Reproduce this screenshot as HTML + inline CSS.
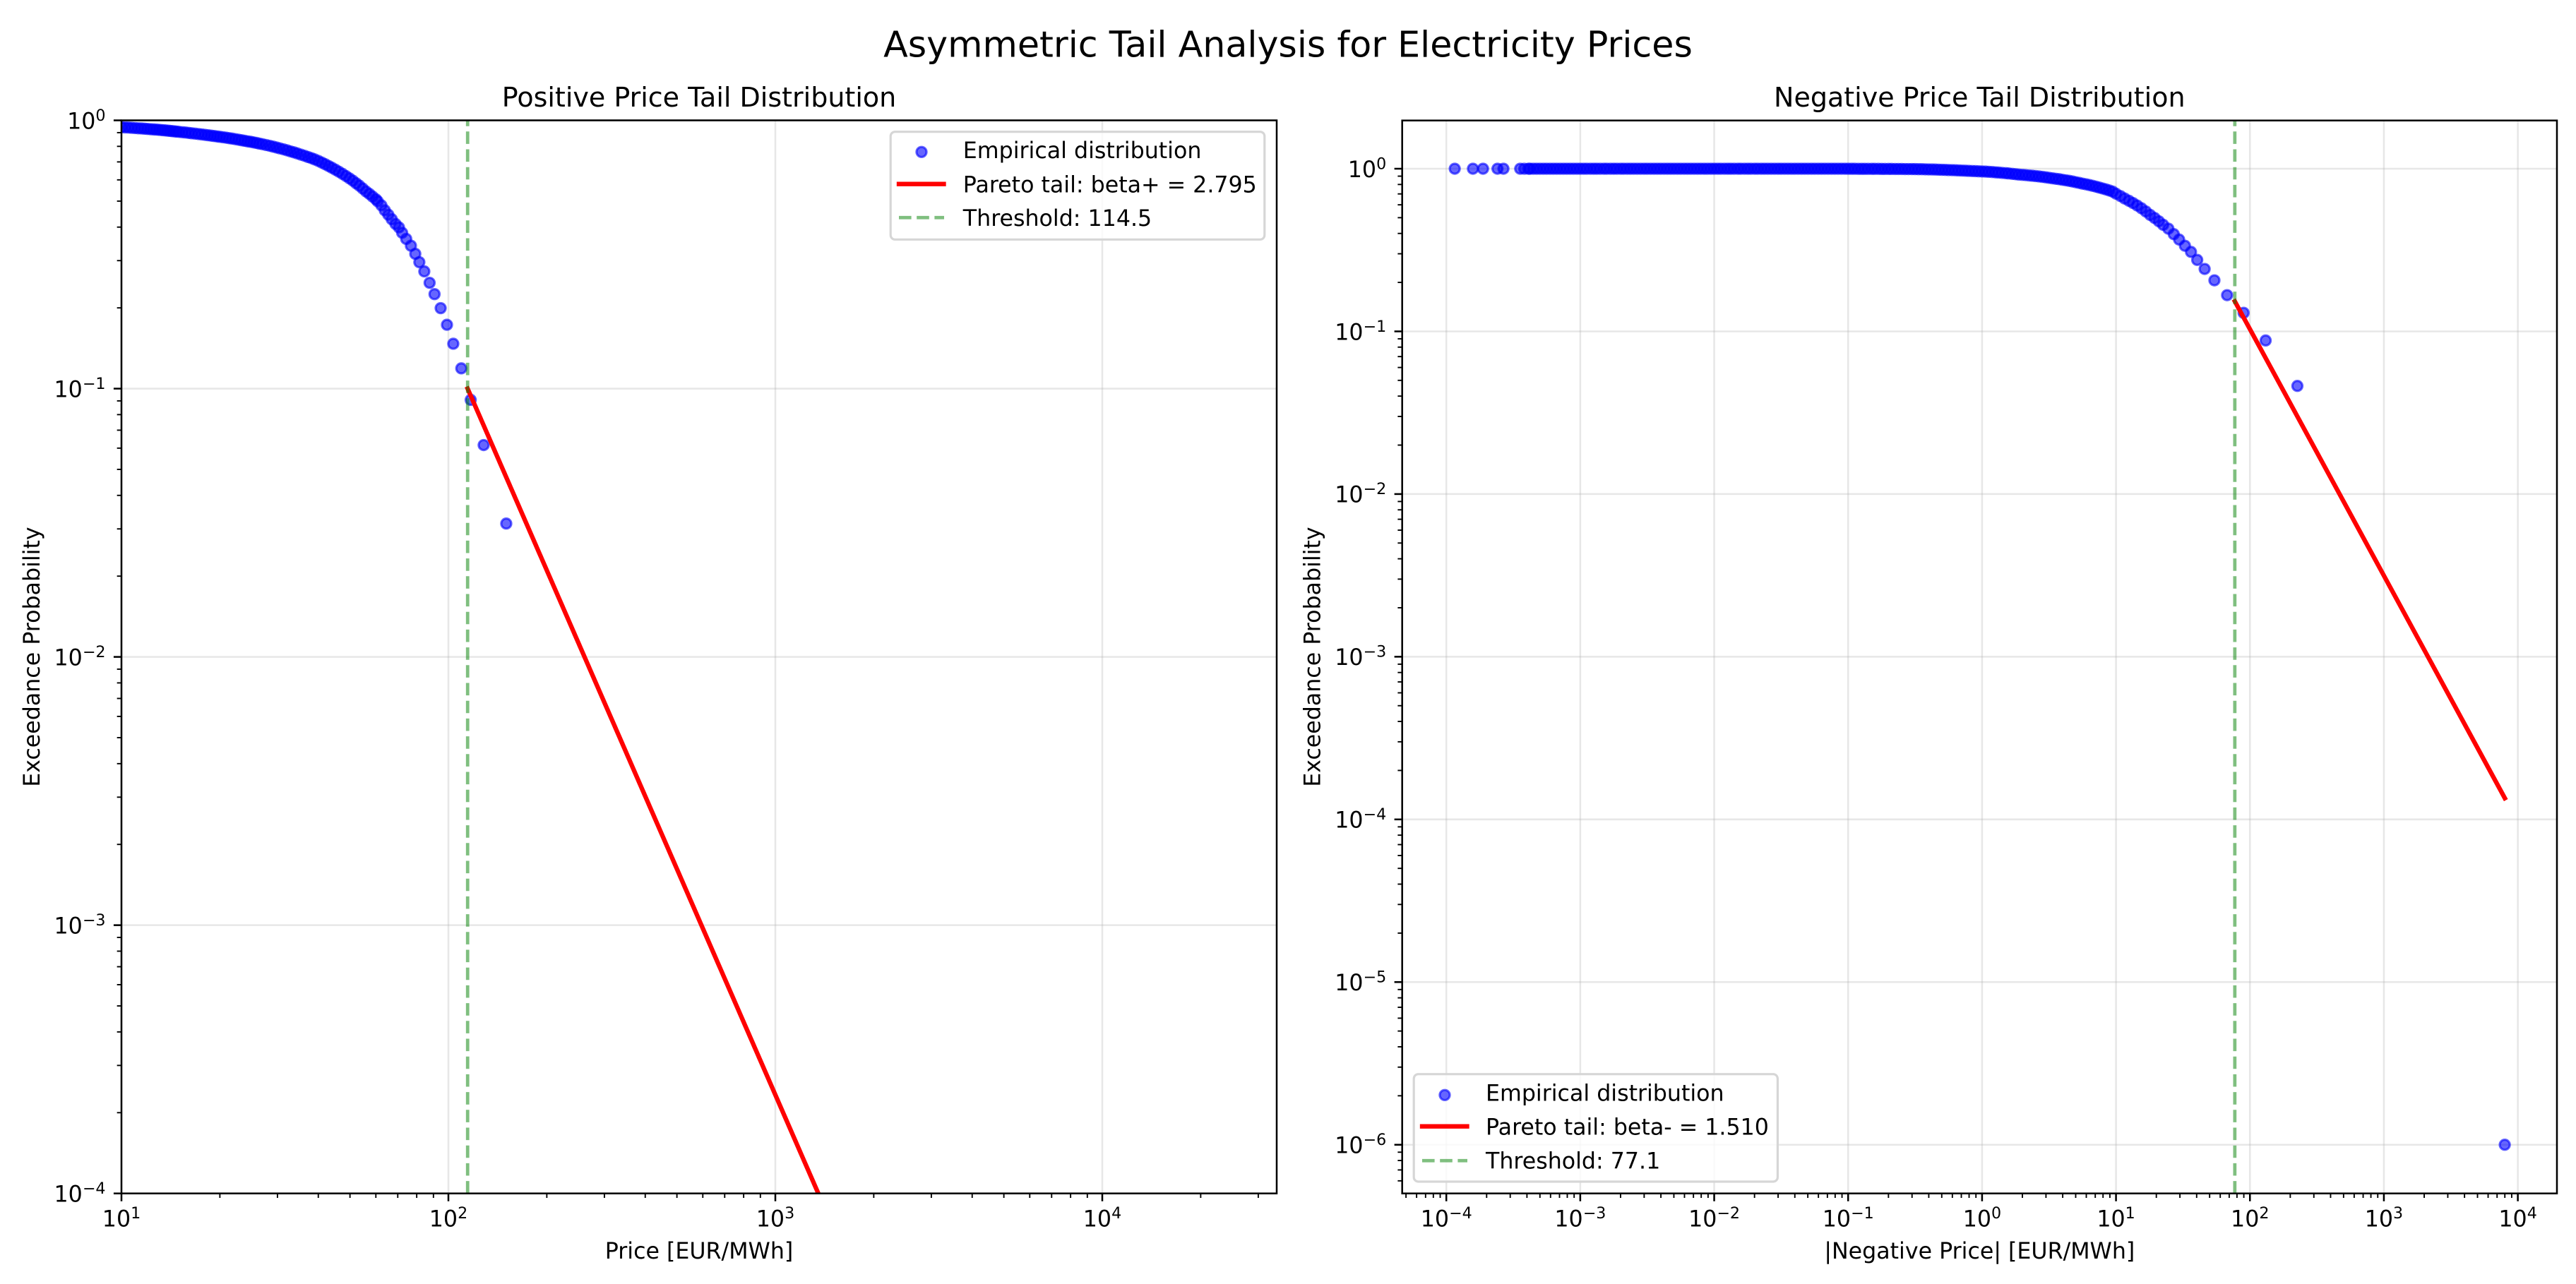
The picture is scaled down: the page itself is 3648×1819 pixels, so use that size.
<!DOCTYPE html>
<html lang="en">
<head>
<meta charset="utf-8">
<title>Asymmetric Tail Analysis for Electricity Prices</title>
<style>
  html, body { margin: 0; padding: 0; background: #ffffff; width: 3648px; height: 1819px; overflow: hidden; }
  svg { display: block; }
  text { font-family: "DejaVu Sans", "Liberation Sans", sans-serif; fill: #000000; }
</style>
</head>
<body>
<svg id="figure" xmlns="http://www.w3.org/2000/svg" width="3648" height="1819" viewBox="0 0 3648 1819">
  <defs>
    <clipPath id="clip-left"><rect x="172" y="170.5" width="1636" height="1520.2"/></clipPath>
    <clipPath id="clip-right"><rect x="1985.7" y="170.7" width="1635.3" height="1520"/></clipPath>
  </defs>
  <rect x="0" y="0" width="3648" height="1819" fill="#ffffff"/>
  <text x="1824" y="80.7" font-size="50.67" text-anchor="middle">Asymmetric Tail Analysis for Electricity Prices</text>

  <g id="left-panel">
    <g id="left-grid"></g>
    <g id="left-marks" clip-path="url(#clip-left)"></g>
    <g id="left-axes"></g>
    <text x="990" y="151" font-size="38" text-anchor="middle">Positive Price Tail Distribution</text>
    <text x="990" y="1783" font-size="31.67" text-anchor="middle">Price [EUR/MWh]</text>
    <text transform="translate(56 930.6) rotate(-90)" font-size="31.67" text-anchor="middle">Exceedance Probability</text>
    <g>
      <rect x="1261.2" y="186.7" width="529.6" height="152.6" rx="6.3" ry="6.3" fill="#ffffff" fill-opacity="0.8" stroke="#d6d6d6" stroke-width="3.17"/>
      <circle cx="1305" cy="215.3" r="7.1" fill="#0000ff" fill-opacity="0.6" stroke="#0000ff" stroke-opacity="0.6" stroke-width="3.17"/>
      <text x="1363.8" y="224" font-size="31.67">Empirical distribution</text>
      <line x1="1273" y1="260.7" x2="1336.5" y2="260.7" stroke="#ff0000" stroke-width="6.33" stroke-linecap="square"/>
      <text x="1363.8" y="272.3" font-size="31.67">Pareto tail: beta+ = 2.795</text>
      <line x1="1273" y1="308.3" x2="1337" y2="308.3" stroke="#008000" stroke-opacity="0.5" stroke-width="4.75" stroke-dasharray="17.6 7.6"/>
      <text x="1363.8" y="320" font-size="31.67">Threshold: 114.5</text>
    </g>
  </g>

  <g id="right-panel">
    <g id="right-grid"></g>
    <g id="right-marks" clip-path="url(#clip-right)"></g>
    <g id="right-axes"></g>
    <text x="2803.3" y="151" font-size="38" text-anchor="middle">Negative Price Tail Distribution</text>
    <text x="2803.3" y="1783" font-size="31.67" text-anchor="middle">|Negative Price| [EUR/MWh]</text>
    <text transform="translate(1869.7 930.6) rotate(-90)" font-size="31.67" text-anchor="middle">Exceedance Probability</text>
    <g>
      <rect x="2002.2" y="1521.7" width="515.2" height="152.3" rx="6.3" ry="6.3" fill="#ffffff" fill-opacity="0.8" stroke="#d6d6d6" stroke-width="3.17"/>
      <circle cx="2046" cy="1551.3" r="7.1" fill="#0000ff" fill-opacity="0.6" stroke="#0000ff" stroke-opacity="0.6" stroke-width="3.17"/>
      <text x="2104" y="1559.3" font-size="31.67">Empirical distribution</text>
      <line x1="2014" y1="1595.7" x2="2077.5" y2="1595.7" stroke="#ff0000" stroke-width="6.33" stroke-linecap="square"/>
      <text x="2104" y="1607.7" font-size="31.67">Pareto tail: beta- = 1.510</text>
      <line x1="2014" y1="1644.3" x2="2078" y2="1644.3" stroke="#008000" stroke-opacity="0.5" stroke-width="4.75" stroke-dasharray="17.6 7.6"/>
      <text x="2104" y="1655.7" font-size="31.67">Threshold: 77.1</text>
    </g>
  </g>
</svg>

<script>
// ---------- Data ----------
const leftEmpiricalX = [
  10,10.25,10.5,10.75,11,11.25,11.5,11.75,12,12.25,
  12.5,12.75,13,13.25,13.5,13.75,14,14.25,14.5,14.75,
  15,15.35,15.7,16.05,16.4,16.8,17.2,17.6,18,
  18.4,18.8,19.2,19.6,20,20.45,20.9,21.35,21.8,
  22.3,22.8,23.3,23.8,24.3,24.8,25.3,25.85,26.4,
  27,27.7,28.4,29.1,29.8,30.5,31.3,32.1,32.9,33.7,
  34.5,35.4,36.3,37.2,38.1,39,40,41,42,43,
  44,45.1,46.2,47.4,48.6,49.8,51,52.2,53.4,54.7,
  56,57.3,58.6,60,60.8,62.4,63.9,65.5,67.1,
  68.9,70.6,72.2,74.3,76.8,79.2,81.5,84.4,87.6,90.7,
  94.7,99,103.5,109.5,117,128.2,150.3
];
const leftEmpiricalY = [
  .943,.941,.940,.938,.936,.934,.933,.931,.929,.927,
  .925,.924,.922,.920,.918,.916,.914,.912,.910,.908,
  .906,.903,.901,.898,.895,.892,.889,.886,.883,
  .880,.877,.874,.871,.868,.865,.862,.858,.855,
  .851,.847,.843,.839,.835,.832,.828,.824,.819,
  .815,.809,.804,.798,.792,.786,.780,.773,.766,.760,
  .753,.745,.738,.730,.723,.715,.706,.696,.686,.676,
  .666,.655,.644,.632,.620,.608,.596,.583,.571,.557,
  .543,.532,.520,.508,.499,.482,.462,.445,.428,
  .411,.399,.381,.3615,.341,.318,.296,.2735,.248,.225,
  .1995,.173,.147,.119,.0908,.0616,.0314
];
const leftParetoX = [114.5, 1500];
const leftParetoY = [0.1, 7.5e-5];
const leftThreshold = [114.5];

const rightEmpiricalX = [
  1.156e-4,1.58e-4,1.88e-4,2.41e-4,2.67e-4,3.56e-4,3.82e-4,
  4.1e-4,4.22e-4,4.47e-4,4.73e-4,5.01e-4,5.31e-4,5.62e-4,5.96e-4,
  6.31e-4,6.68e-4,7.08e-4,7.5e-4,7.94e-4,8.41e-4,8.91e-4,9.44e-4,
  .001,.00106,.00112,.00119,.00126,.00133,.00141,.0015,.00158,.00168,
  .00178,.00188,.002,.00211,.00224,.00237,.00251,.00266,.00282,.00299,
  .00316,.00335,.00355,.00376,.00398,.00422,.00447,.00473,.00501,.00531,
  .00562,.00596,.00631,.00668,.00708,.0075,.00794,.00841,.00891,.00944,
  .01,.0106,.0112,.0119,.0126,.0133,.0141,.015,.0158,.0168,
  .0178,.0188,.02,.0211,.0224,.0237,.0251,.0266,.0282,.0299,
  .0316,.0335,.0355,.0376,.0398,.0422,.0447,.0473,.0501,.0531,
  .0562,.0596,.0631,.0668,.0708,.075,.0794,.0841,.0891,.0944,
  .1,.106,.112,.119,.126,.133,.141,.15,.158,.168,
  .178,.188,.2,.211,.224,.237,.251,.266,.282,.299,
  .316,.335,.355,.376,.398,.422,.447,.473,.501,.531,
  .562,.596,.631,.668,.708,.75,.794,.841,.891,.944,
  1,1.06,1.12,1.19,1.26,1.33,1.41,1.5,1.58,1.68,
  1.78,1.88,2,2.11,2.24,2.37,2.51,2.66,2.82,2.99,
  3.16,3.35,3.55,3.76,3.98,4.22,4.47,4.73,5.01,5.31,
  5.62,5.96,6.31,6.68,7.08,7.5,7.94,8.41,8.91,9.44,
  10,10.8,11.6,12.5,13.4,14.4,15.5,16.7,18,19.4,
  20.9,22.5,24.6,27,29.6,32.7,36.3,40.4,45.9,54.3,
  67.5,89.7,131,226,7990
];
const rightEmpiricalY = [
  1,1,1,1,1,1,1,
  1,1,1,1,1,1,1,1,
  1,1,1,1,1,1,1,1,
  1,1,1,1,1,1,1,1,1,1,
  1,1,1,1,1,1,1,1,1,1,
  1,1,1,1,1,1,1,1,1,1,
  1,1,1,1,1,1,1,1,1,1,
  1,1,1,1,1,1,1,1,1,1,
  1,1,1,1,1,1,1,1,1,1,
  1,1,1,1,1,1,1,1,1,1,
  1,1,1,1,1,1,1,1,1,1,
  .999,.999,.999,.998,.998,.998,.998,.998,.998,.998,
  .997,.997,.997,.997,.996,.996,.996,.995,.995,.995,
  .994,.993,.993,.991,.990,.989,.988,.986,.984,.983,
  .981,.980,.978,.976,.974,.972,.970,.968,.966,.964,
  .962,.960,.957,.954,.950,.947,.943,.939,.935,.930,
  .925,.920,.917,.914,.909,.905,.901,.896,.891,.885,
  .879,.873,.867,.862,.855,.849,.842,.835,.826,.818,
  .809,.802,.794,.785,.776,.766,.756,.746,.735,.723,
  .702,.679,.656,.635,.615,.594,.571,.546,.520,.498,
  .475,.452,.428,.396,.367,.336,.308,.275,.242,.206,
  .167,.130,.0879,.0462,1e-6
];
const rightParetoX = [77.1, 8000];
const rightParetoY = [0.153, 1.35e-4];
const rightThreshold = [77.1];

// Tick exponents (labels are 10^n)
const leftXTickExponents = [1, 2, 3, 4];
const leftYTickExponents = [0, -1, -2, -3, -4];
const rightXTickExponents = [-4, -3, -2, -1, 0, 1, 2, 3, 4];
const rightYTickExponents = [0, -1, -2, -3, -4, -5, -6];
const minorMultipliers = [2, 3, 4, 5, 6, 7, 8, 9];

// Axis domains (log10 limits)
const leftXLimits = [1, 4.5335];
const leftYLimits = [-4, 0];
const rightXLimits = [-4.3295, 4.292];
const rightYLimits = [-6.2993, 0.2964];

// ---------- Drawing ----------
const SVG_NS = 'http://www.w3.org/2000/svg';
const MINUS = '\u2212';

function svgEl(tag, attrs, parent) {
  const el = document.createElementNS(SVG_NS, tag);
  for (const k in attrs) el.setAttribute(k, attrs[k]);
  parent.appendChild(el);
  return el;
}

function drawPanel(p) {
  const sx = v => p.x0 + (Math.log10(v) - p.xLim[0]) * (p.x1 - p.x0) / (p.xLim[1] - p.xLim[0]);
  const sy = v => p.y1 - (Math.log10(v) - p.yLim[0]) * (p.y1 - p.y0) / (p.yLim[1] - p.yLim[0]);
  const grid = document.getElementById(p.id + '-grid');
  const marks = document.getElementById(p.id + '-marks');
  const axes = document.getElementById(p.id + '-axes');

  // grid
  p.xTicks.forEach(e => {
    const x = sx(Math.pow(10, e));
    const g = svgEl('line', {x1: x, x2: x, y1: p.y0, y2: p.y1, stroke: '#b0b0b0', 'stroke-opacity': 0.3, 'stroke-width': 2.53}, grid);
    
    
  });
  p.yTicks.forEach(e => {
    const y = sy(Math.pow(10, e));
    const g = svgEl('line', {x1: p.x0, x2: p.x1, y1: y, y2: y, stroke: '#b0b0b0', 'stroke-opacity': 0.3, 'stroke-width': 2.53}, grid);
    
    
  });

  // scatter
  p.empX.forEach((v, i) => {
    const c = svgEl('circle', {cx: sx(v), cy: sy(p.empY[i]), r: 7.1, fill: '#0000ff', 'fill-opacity': 0.6, stroke: '#0000ff', 'stroke-opacity': 0.6, 'stroke-width': 3.17}, marks);
    
    
  });

  // pareto line
  const pts = p.parX.map((v, i) => sx(v) + ',' + sy(p.parY[i])).join(' ');
  const pl = svgEl('polyline', {points: pts, fill: 'none', stroke: '#ff0000', 'stroke-width': 6.33, 'stroke-linecap': 'square', 'stroke-linejoin': 'round'}, marks);
  
  

  // threshold line (drawn bottom to top so dash phase starts at the bottom)
  const tx = sx(p.thr[0]);
  const tl = svgEl('line', {x1: tx, x2: tx, y1: p.y1, y2: p.y0, stroke: '#008000', 'stroke-opacity': 0.5, 'stroke-width': 4.75, 'stroke-dasharray': '17.6 7.6'}, marks);
  
  

  // minor ticks
  const inRange = (lv, lim) => lv >= lim[0] - 1e-9 && lv <= lim[1] + 1e-9;
  for (let d = Math.floor(p.xLim[0]); d <= Math.ceil(p.xLim[1]); d++) {
    minorMultipliers.forEach(m => {
      const v = m * Math.pow(10, d);
      if (!inRange(Math.log10(v), p.xLim)) return;
      const t = svgEl('line', {x1: sx(v), x2: sx(v), y1: p.y1, y2: p.y1 + 6.33, stroke: '#000', 'stroke-width': 1.9}, axes);
      
      
    });
  }
  for (let d = Math.floor(p.yLim[0]); d <= Math.ceil(p.yLim[1]); d++) {
    minorMultipliers.forEach(m => {
      const v = m * Math.pow(10, d);
      if (!inRange(Math.log10(v), p.yLim)) return;
      const t = svgEl('line', {x1: p.x0 - 6.33, x2: p.x0, y1: sy(v), y2: sy(v), stroke: '#000', 'stroke-width': 1.9}, axes);
      
      
    });
  }

  // major ticks + labels
  const writeLabel = (txt, e) => {
    txt.appendChild(document.createTextNode('10'));
    const s = svgEl('tspan', {'font-size': 22.17, dy: -11.5}, txt);
    s.textContent = (e < 0 ? MINUS + (-e) : '' + e);
  };
  p.xTicks.forEach(e => {
    const x = sx(Math.pow(10, e));
    const t = svgEl('line', {x1: x, x2: x, y1: p.y1, y2: p.y1 + 11.08, stroke: '#000', 'stroke-width': 2.53}, axes);
    
    
    const l = svgEl('text', {x: x, y: 1737.5, 'font-size': 31.67, 'text-anchor': 'middle'}, axes);
    
    
    writeLabel(l, e);
  });
  p.yTicks.forEach(e => {
    const y = sy(Math.pow(10, e));
    const t = svgEl('line', {x1: p.x0 - 11.08, x2: p.x0, y1: y, y2: y, stroke: '#000', 'stroke-width': 2.53}, axes);
    
    
    const l = svgEl('text', {x: p.x0 - 22.5, y: y + 11.8, 'font-size': 31.67, 'text-anchor': 'end'}, axes);
    
    
    writeLabel(l, e);
  });

  // spines
  const spine = svgEl('rect', {x: p.x0, y: p.y0, width: p.x1 - p.x0, height: p.y1 - p.y0, fill: 'none', stroke: '#000', 'stroke-width': 2.53}, axes);
  
  
}

drawPanel({
  id: 'left', x0: 172, x1: 1808, y0: 170.5, y1: 1690.7,
  xLim: leftXLimits, yLim: leftYLimits,
  xTicks: leftXTickExponents, yTicks: leftYTickExponents,
  empX: leftEmpiricalX, empY: leftEmpiricalY,
  parX: leftParetoX, parY: leftParetoY, thr: leftThreshold
});
drawPanel({
  id: 'right', x0: 1985.7, x1: 3621, y0: 170.7, y1: 1690.7,
  xLim: rightXLimits, yLim: rightYLimits,
  xTicks: rightXTickExponents, yTicks: rightYTickExponents,
  empX: rightEmpiricalX, empY: rightEmpiricalY,
  parX: rightParetoX, parY: rightParetoY, thr: rightThreshold
});
</script>
</body>
</html>
